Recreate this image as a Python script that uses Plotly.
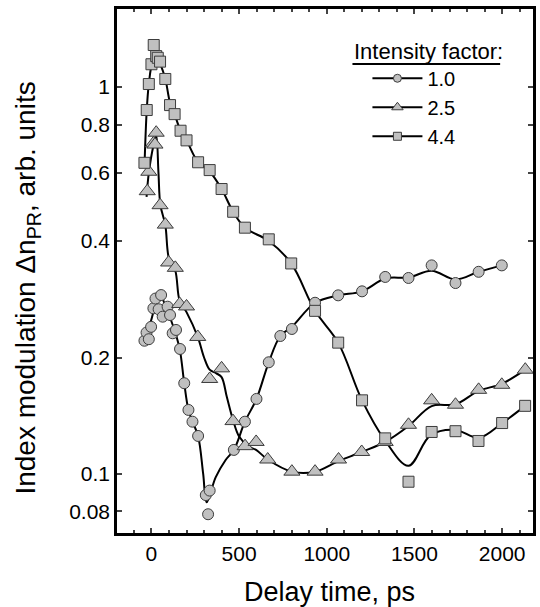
import plotly.graph_objects as go

# ---- data ----
# Intensity factor 1.0 (circles)
circ_x = [-40, -28, -15, -2, 11, 23, 41, 55, 64, 92, 106, 121, 140, 163, 187, 211, 234, 266,
          310, 323, 332, 470, 533, 599, 669, 735, 801, 933, 1065, 1201, 1333, 1466, 1598, 1734, 1866, 1998]
circ_y = [0.221, 0.232, 0.223, 0.240, 0.268, 0.284, 0.2665, 0.290, 0.255, 0.2706, 0.2575, 0.231, 0.2356,
          0.2104, 0.1716, 0.1464, 0.1365, 0.1254, 0.0882, 0.0787, 0.0906, 0.1154, 0.1365, 0.1563, 0.1944,
          0.2273, 0.237, 0.277, 0.2895, 0.2965, 0.323, 0.321, 0.346, 0.3115, 0.333, 0.346]
circ_fit_x = [-49, -7, 27, 55, 83, 111, 140, 163, 187, 211, 234, 266, 295, 315, 366, 423, 470, 533, 599,
              669, 735, 801, 933, 1065, 1201, 1333, 1466, 1598, 1734, 1866, 1998]
circ_fit_y = [0.22, 0.245, 0.276, 0.287, 0.268, 0.25, 0.229, 0.208, 0.1716, 0.1464, 0.1365, 0.1254, 0.1,
              0.0845, 0.098, 0.1087, 0.1154, 0.1365, 0.1563, 0.1944, 0.2273, 0.24, 0.277, 0.2895, 0.2965,
              0.32, 0.322, 0.335, 0.318, 0.333, 0.346]

# Intensity factor 2.5 (triangles)
tri_x = [-24, -15, 11, 20, 27, 49, 79, 98, 136, 161, 200, 264, 332, 400, 465, 534, 597, 663, 801, 933,
         1067, 1199, 1333, 1466, 1598, 1734, 1866, 1998, 2132]
tri_y = [0.538, 0.604, 0.715, 0.71, 0.762, 0.495, 0.441, 0.352, 0.341, 0.275, 0.271, 0.226, 0.176, 0.1875,
         0.137, 0.118, 0.121, 0.109, 0.1014, 0.1014, 0.109, 0.114, 0.121, 0.134, 0.155, 0.151, 0.165, 0.170, 0.186]
tri_fit_x = [-28, -15, 11, 27, 40, 51, 79, 100, 136, 161, 200, 264, 300, 332, 370, 400, 430, 465, 500, 555,
             597, 663, 801, 933, 1067, 1199, 1333, 1466, 1598, 1734, 1866, 1998, 2132]
tri_fit_y = [0.52, 0.6, 0.705, 0.75, 0.6, 0.495, 0.44, 0.36, 0.335, 0.28, 0.262, 0.226, 0.2, 0.186, 0.182,
             0.178, 0.158, 0.138, 0.125, 0.1177, 0.1154, 0.109, 0.1014, 0.1014, 0.108, 0.114, 0.121, 0.133,
             0.1498, 0.1514, 0.164, 0.171, 0.186]

# Intensity factor 4.4 (squares)
sq_x = [-40, -27, -15, 0, 13, 27, 36, 49, 79, 106, 132, 166, 200, 266, 332, 400, 466, 533, 669, 797, 933,
        1065, 1201, 1333, 1466, 1598, 1734, 1865, 2000, 2131]
sq_y = [0.637, 0.872, 1.018, 1.145, 1.284, 1.202, 1.19, 1.163, 1.049, 0.898, 0.851, 0.771, 0.728, 0.639,
        0.610, 0.545, 0.476, 0.433, 0.404, 0.350, 0.264, 0.2185, 0.155, 0.1236, 0.0955, 0.1284, 0.129,
        0.1217, 0.1354, 0.150]
sq_fit_x = [-40, -27, -15, 0, 15, 35, 50, 79, 106, 132, 166, 200, 266, 332, 400, 466, 533, 669, 797, 933,
            1065, 1201, 1333, 1466, 1592, 1734, 1866, 2000, 2131]
sq_fit_y = [0.62, 0.87, 1.02, 1.14, 1.22, 1.19, 1.15, 1.05, 0.91, 0.85, 0.771, 0.728, 0.639, 0.605, 0.545,
            0.476, 0.433, 0.4, 0.35, 0.264, 0.2185, 0.155, 0.122, 0.105, 0.126, 0.13, 0.124, 0.1354, 0.150]

series_names = ["1.0", "2.5", "4.4"]
y_tickvals = [0.08, 0.1, 0.2, 0.4, 0.6, 0.8, 1]
y_ticktext = ["0.08", "0.1", "0.2", "0.4", "0.6", "0.8", "1"]
x_tickvals = [0, 500, 1000, 1500, 2000]

FONT = "Liberation Sans, Arial, sans-serif"
FILL = "#c0c0c0"
EDGE = "#3c3c3c"

fig = go.Figure()

series = [
    (circ_x, circ_y, circ_fit_x, circ_fit_y, "circle", 11, 8),
    (tri_x, tri_y, tri_fit_x, tri_fit_y, "triangle-up", 14, 10),
    (sq_x, sq_y, sq_fit_x, sq_fit_y, "square", 11, 8),
]

for (mx, my, fx, fy, sym, size, lsize), name in zip(series, series_names):
    fig.add_trace(go.Scatter(x=fx, y=fy, mode="lines", line=dict(color="black", width=2, shape="spline", smoothing=1.0),
                             showlegend=False, hoverinfo="skip"))
for (mx, my, fx, fy, sym, size, lsize), name in zip(series, series_names):
    fig.add_trace(go.Scatter(x=mx, y=my, mode="markers",
                             marker=dict(symbol=sym, size=size, color=FILL, line=dict(color=EDGE, width=1)),
                             showlegend=False))
for (mx, my, fx, fy, sym, size, lsize), name in zip(series, series_names):
    fig.add_trace(go.Scatter(x=[None], y=[None], mode="lines+markers", name=name,
                             line=dict(color="black", width=2),
                             marker=dict(symbol=sym, size=lsize, color=FILL, line=dict(color=EDGE, width=1))))

fig.update_layout(
    width=540, height=607,
    margin=dict(l=117, r=4, t=9, b=74),
    paper_bgcolor="white", plot_bgcolor="white",
    font=dict(family=FONT, color="black", size=21),
    legend=dict(x=0.602, y=0.905, xanchor="left", yanchor="top", font=dict(size=20, family=FONT),
                bgcolor="rgba(0,0,0,0)", itemwidth=50, tracegroupgap=0),
    showlegend=True,
)

fig.update_xaxes(
    range=[-196.5, 2176], tickvals=x_tickvals, ticks="inside", ticklen=5, tickwidth=2,
    showline=True, linewidth=2.5, linecolor="black", mirror="ticks", showgrid=False, zeroline=False,
    minor=dict(dtick=100, ticks="inside", ticklen=3, tickwidth=2, showgrid=False),
    tickfont=dict(size=21),
)
fig.update_yaxes(
    type="log", range=[-1.1525, 0.2016], tickvals=y_tickvals, ticktext=y_ticktext,
    ticks="inside", ticklen=5, tickwidth=2,
    showline=True, linewidth=2.5, linecolor="black", mirror="ticks", showgrid=False, zeroline=False,
    tickfont=dict(size=21),
)

fig.add_annotation(text="Delay time, ps", xref="paper", yref="paper", x=0.51, y=-0.081,
                   xanchor="center", yanchor="top", showarrow=False, font=dict(size=27, family=FONT))
fig.add_annotation(text="Index modulation \u0394n<sub>PR</sub>, arb. units", xref="paper", yref="paper",
                   x=-0.2148, y=0.4676, xanchor="center", yanchor="middle", textangle=-90, showarrow=False,
                   font=dict(size=28, family=FONT))
fig.add_annotation(text="Intensity factor:", xref="paper", yref="paper", x=0.5656, y=0.947,
                   xanchor="left", yanchor="top", showarrow=False, font=dict(size=22, family=FONT))
fig.add_shape(type="line", xref="paper", yref="paper", x0=0.566, x1=0.921, y0=0.895, y1=0.895,
              line=dict(color="black", width=2))

fig.write_html("out.html")
